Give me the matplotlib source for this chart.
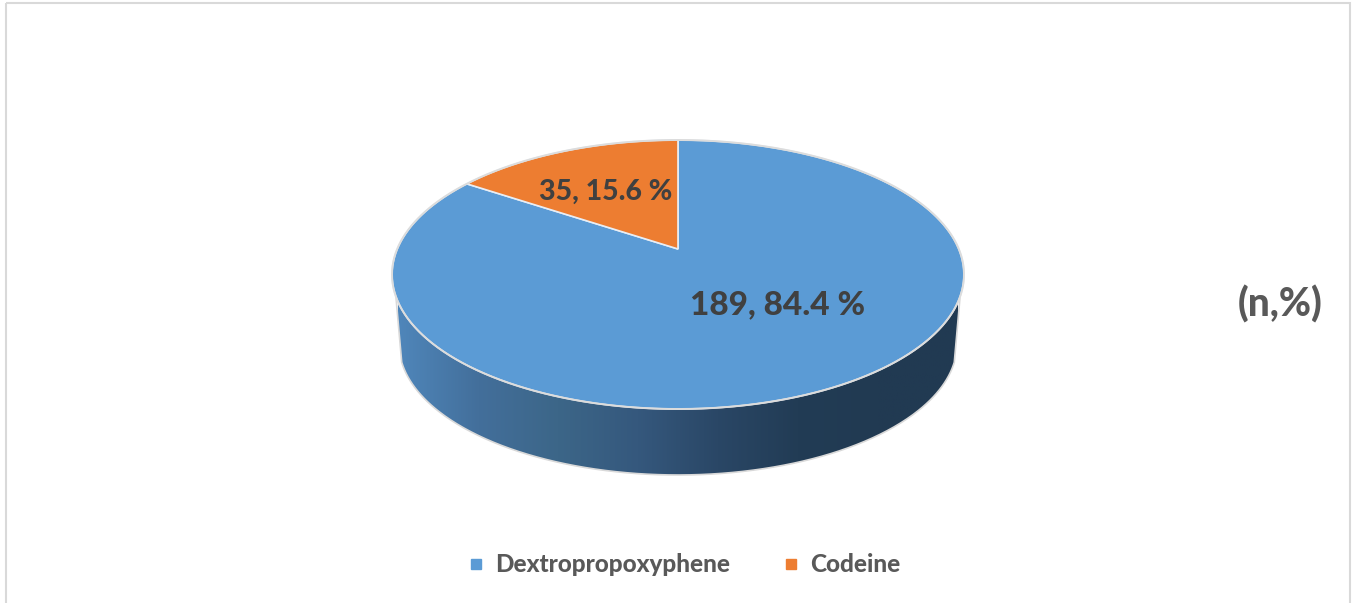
import numpy as np
import matplotlib
matplotlib.use('Agg')
import matplotlib.pyplot as plt
from matplotlib.colors import LinearSegmentedColormap
from matplotlib.lines import Line2D
from matplotlib.patches import Polygon, Rectangle

categorias = ['Dextropropoxyphene', 'Codeine']
valores = [189, 35]
etiquetas = ['189, 84.4 %', '35, 15.6 %']
colores = ['#5b9bd5', '#ed7d31']
degradado = ['#4f86ba', '#436f9b', '#3c6688', '#35587d', '#2a4766', '#223c55', '#213a52', '#213a52']

fig = plt.figure(figsize=(13.56, 6.03), dpi=100)
ax = fig.add_axes([0, 0, 1, 1])
ax.set_xlim(0, 1356)
ax.set_ylim(603, 0)
ax.axis('off')

# marco del grafico
ax.add_patch(Rectangle((5.5, 2.5), 1344.5, 610, fill=False, ec='#d9d9d9', lw=1.5))


# circulo de la tapa en perspectiva, angulo en grados desde las 12 en sentido horario
def tapa(ang):
    a = np.radians(ang)
    u, v = np.sin(a), np.cos(a)
    d = 1 + 0.1896 * v
    return 678 + 280.8 * u / d, (249 - 82.46 * v) / d


# lateral del cilindro: base unida a la tapa, con degradado horizontal
t = np.radians(np.linspace(172, 8, 300))
borde_b = np.column_stack([678 + 279 * np.cos(t), 344 + 131 * np.sin(t)])
contorno = np.vstack([[[395.5, 292]], borde_b, [[960.5, 292]]])
lateral = Polygon(contorno, closed=True, fc='none', ec='none')
ax.add_patch(lateral)
cmap = LinearSegmentedColormap.from_list('lateral', degradado)
img = ax.imshow(np.linspace(0, 1, 256).reshape(1, -1), cmap=cmap, aspect='auto',
                extent=(398, 958, 480, 270), zorder=1)
img.set_clip_path(lateral)
ax.set_xlim(0, 1356)
ax.set_ylim(603, 0)
ax.plot(contorno[:, 0], contorno[:, 1], color='#d9d9d9', lw=1.2, zorder=2)

# sectores de la tapa en sentido horario desde las 12
total = sum(valores)
inicio = 0
for valor, color in zip(valores, colores):
    fin = inicio + valor / total * 360
    xs, ys = tapa(np.linspace(inicio, fin, 300))
    xs = np.r_[678, xs]
    ys = np.r_[249, ys]
    ax.add_patch(Polygon(np.column_stack([xs, ys]), closed=True, fc=color,
                         ec='#e8eef5', lw=1.2, zorder=3))
    inicio = fin

xs, ys = tapa(np.linspace(0, 360, 600))
ax.plot(xs, ys, color='#dcdcdc', lw=1.4, zorder=4)

fuente = 'Lato'
peso = 900
ax.text(778, 305, etiquetas[0], fontsize=24, fontweight=peso, family=fuente,
        color='#404040', ha='center', va='center', zorder=5)
ax.text(605.5, 192, etiquetas[1], fontsize=20.5, fontweight=peso, family=fuente,
        color='#404040', ha='center', va='center', zorder=5)
ax.text(1280.5, 304, '(n,%)', fontsize=28, fontweight=peso, family=fuente,
        color='#595959', ha='center', va='center', zorder=5)

marcas = [Line2D([], [], ls='none', marker='s', ms=7.2, mfc=c, mec=c) for c in colores]
ax.legend(marcas, categorias, loc='center', bbox_to_anchor=(684.5 / 1356, 1 - 565 / 603),
          ncol=2, frameon=False, handlelength=0.6, handletextpad=0.5, columnspacing=2.2,
          labelcolor='#595959', prop={'family': fuente, 'weight': peso, 'size': 17.5})

fig.savefig('out.png', dpi=100)
